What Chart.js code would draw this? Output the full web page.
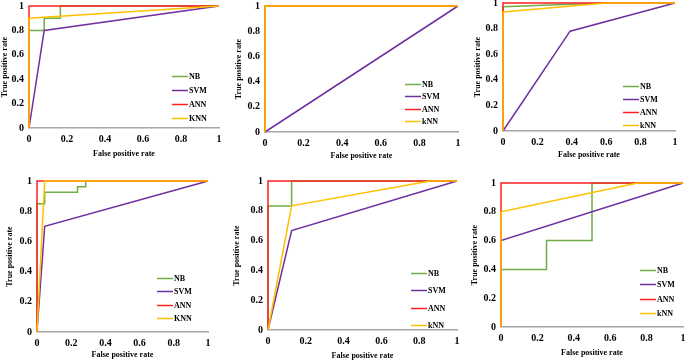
<!DOCTYPE html>
<html>
<head>
<meta charset="utf-8">
<script src="https://cdn.jsdelivr.net/npm/chart.js@4/dist/chart.umd.min.js"></script>
<style>
  html, body { margin: 0; padding: 0; background: #fff; }
  body { width: 685px; height: 361px; position: relative; overflow: hidden; }
  canvas { position: absolute; }
</style>
</head>
<body>
<script>
// ROC points [fpr, tpr] for each panel
const nb1 = [[0, 0], [0, 0.8], [0.08, 0.8], [0.08, 0.9], [0.165, 0.9], [0.165, 1], [1, 1]];
const svm1 = [[0, 0], [0.08, 0.8], [1, 1]];
const ann1 = [[0, 0], [0, 1], [1, 1]];
const knn1 = [[0, 0], [0, 0.9], [1, 1]];

const nb2 = [[0, 0], [0, 1], [1, 1]];
const svm2 = [[0, 0], [1, 1]];
const ann2 = [[0, 0], [0, 1], [1, 1]];
const knn2 = [[0, 0], [0, 1], [1, 1]];

const nb3 = [[0, 0], [0, 0.97], [0.59, 1], [1, 1]];
const svm3 = [[0, 0], [0.39, 0.78], [1, 1]];
const ann3 = [[0, 0], [0, 1], [1, 1]];
const knn3 = [[0, 0], [0, 0.93], [0.6, 1], [1, 1]];

const nb4 = [[0, 0], [0, 0.85], [0.045, 0.85], [0.045, 0.925], [0.237, 0.925], [0.237, 0.962], [0.285, 0.962], [0.285, 1], [1, 1]];
const svm4 = [[0, 0], [0.045, 0.7], [1, 1]];
const ann4 = [[0, 0], [0, 1], [1, 1]];
const knn4 = [[0, 0], [0.045, 1], [1, 1]];

const nb5 = [[0, 0], [0, 0.833], [0.125, 0.833], [0.125, 1], [1, 1]];
const svm5 = [[0, 0], [0.125, 0.667], [1, 1]];
const ann5 = [[0, 0], [0, 1], [1, 1]];
const knn5 = [[0, 0], [0.125, 0.833], [0.857, 1], [1, 1]];

const nb6 = [[0, 0], [0, 0.4], [0.25, 0.4], [0.25, 0.6], [0.5, 0.6], [0.5, 1], [1, 1]];
const svm6 = [[0, 0], [0, 0.6], [1, 1]];
const ann6 = [[0, 0], [0, 1], [1, 1]];
const knn6 = [[0, 0], [0, 0.8], [0.75, 1], [1, 1]];

const labelsUpper = ['NB', 'SVM', 'ANN', 'KNN'];
const labelsLower = ['NB', 'SVM', 'ANN', 'kNN'];
const axisTicks = [0, 0.2, 0.4, 0.6, 0.8, 1];

const colors = ['#70ad47', '#7030a0', '#ff2020', '#ffc000'];
const serif = '"Liberation Serif", "Times New Roman", serif';

// chart area [left, top, right, bottom], y-axis width, x-axis height, legend [x, y, gap]
const panels = [
  { area: [29, 6, 219, 128], yW: 29, xH: 31, legend: [143, 70, 13.9], labels: labelsUpper, series: [nb1, svm1, ann1, knn1] },
  { area: [265, 6, 458, 132], yW: 31, xH: 29, legend: [140, 78, 12.3], labels: labelsLower, series: [nb2, svm2, ann2, knn2] },
  { area: [503, 3, 675, 131], yW: 30, xH: 29, legend: [120, 83, 13], labels: labelsLower, series: [nb3, svm3, ann3, knn3] },
  { area: [37, 181, 208, 332], yW: 32, xH: 28, legend: [120, 97, 13.4], labels: labelsUpper, series: [nb4, svm4, ann4, knn4] },
  { area: [268, 181, 457, 330], yW: 36, xH: 31, legend: [143, 92, 17.3], labels: labelsLower, series: [nb5, svm5, ann5, knn5] },
  { area: [501, 183, 683, 327], yW: 31, xH: 31, legend: [139, 87, 14.3], labels: labelsLower, series: [nb6, svm6, ann6, knn6] }
];

// legend drawn inside the plot, line sample + label
const insideLegend = {
  id: 'insideLegend',
  afterDraw(chart, args, opts) {
    const { ctx, chartArea } = chart;
    ctx.save();
    ctx.font = 'bold 8px ' + serif;
    ctx.textBaseline = 'middle';
    ctx.textAlign = 'left';
    chart.data.datasets.forEach((ds, i) => {
      const x = chartArea.left + opts.x;
      const y = Math.round(chartArea.top + opts.y + i * opts.gap) + 0.5;
      ctx.strokeStyle = ds.borderColor;
      ctx.lineWidth = 1.5;
      ctx.beginPath();
      ctx.moveTo(x, y);
      ctx.lineTo(x + 16, y);
      ctx.stroke();
      ctx.fillStyle = '#000';
      ctx.fillText(ds.label, x + 17, y);
    });
    ctx.restore();
  }
};

const pad = 12;

panels.forEach((p) => {
  const [L, T, R, B] = p.area;
  const left = L - p.yW;
  const top = T - pad;
  const width = R + pad - left;
  const height = B + p.xH - top;

  const canvas = document.createElement('canvas');
  canvas.width = width;
  canvas.height = height;
  canvas.style.left = left + 'px';
  canvas.style.top = top + 'px';
  canvas.style.width = width + 'px';
  canvas.style.height = height + 'px';
  document.body.appendChild(canvas);

  const datasets = p.series.map((pts, i) => ({
    label: p.labels[i],
    data: pts.map(([x, y]) => ({ x, y })),
    borderColor: colors[i],
    backgroundColor: colors[i],
    borderWidth: 1.5,
    showLine: true,
    pointRadius: 0,
    tension: 0,
    clip: false,
    order: 3 - i // later series on top
  }));

  const scaleBase = {
    type: 'linear',
    min: 0,
    max: 1,
    grid: { display: false, drawTicks: false },
    ticks: {
      stepSize: 0.2,
      color: '#000',
      padding: 5,
      font: { family: serif, size: 10, weight: 'bold' },
      callback: (v) => (axisTicks.some((t) => Math.abs(t - v) < 1e-6) ? String(Math.round(v * 10) / 10) : '')
    },
    title: {
      display: true,
      color: '#000',
      padding: 0,
      font: { family: serif, size: 8, weight: 'bold' }
    }
  };

  new Chart(canvas, {
    type: 'scatter',
    data: { datasets: datasets },
    options: {
      responsive: false,
      animation: false,
      layout: { padding: { top: pad, right: pad, left: 0, bottom: 0 } },
      plugins: {
        legend: { display: false },
        tooltip: { enabled: false },
        insideLegend: { x: p.legend[0], y: p.legend[1], gap: p.legend[2] }
      },
      scales: {
        x: {
          ...scaleBase,
          border: { display: true, color: '#a6a6a6', width: 1.5 },
          title: { ...scaleBase.title, text: 'False positive rate' },
          afterFit: (scale) => { scale.height = p.xH; }
        },
        y: {
          ...scaleBase,
          border: { display: false },
          title: { ...scaleBase.title, text: 'True positive rate' },
          afterFit: (scale) => { scale.width = p.yW; }
        }
      }
    },
    plugins: [insideLegend]
  });
});
</script>
</body>
</html>
